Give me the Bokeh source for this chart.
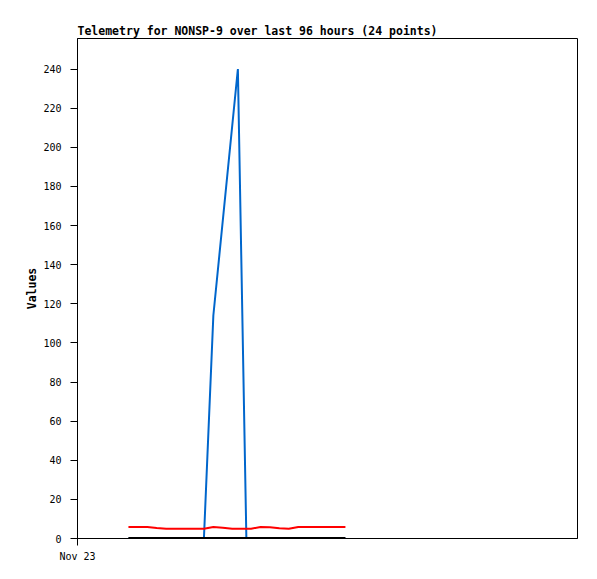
from bokeh.plotting import figure
from bokeh.models import Range1d, FixedTicker
from bokeh.embed import file_html
from bokeh.resources import INLINE

# hours since Nov 23 00:00
hours = [5.4 + i for i in range(24)]
red_vals = [5.9, 5.9, 5.9, 5.4, 5.0, 5.0, 5.0, 5.0, 5.0, 5.9, 5.5, 5.0,
            5.0, 5.0, 5.9, 5.8, 5.2, 5.0, 5.9, 5.9, 5.9, 5.9, 5.9, 5.9]
black_vals = [0.0] * 24
blue_hours = [5.4, 6.4, 7.4, 8.4, 9.4, 10.4, 11.4, 12.4, 13.4, 14.4, 17.0, 17.9,
              18.9, 19.9, 20.9, 21.9, 22.9, 23.9, 24.9, 25.9, 26.9, 27.9, 28.4]
blue_vals = [0, 0, 0, 0, 0, 0, 0, 0, 0, 114, 240, 0,
             0, 0, 0, 0, 0, 0, 0, 0, 0, 0, 0]
x_ticks = [0]
x_tick_labels = ["Nov 23"]
y_ticks = list(range(0, 241, 20))

MONO = "DejaVu Sans Mono"

p = figure(width=597, height=579, output_backend="svg", toolbar_location=None,
           x_range=Range1d(0, 53.0), y_range=Range1d(0, 255.6),
           min_border_left=77, min_border_right=20, min_border_top=38, min_border_bottom=41)

p.title.text = "Telemetry for NONSP-9 over last 96 hours (24 points)"
p.title.text_font = MONO
p.title.text_font_style = "bold"
p.title.text_font_size = "11.5px"
p.title.text_color = "black"
p.title.align = "left"
p.title.offset = 0
p.title.standoff = 2

p.grid.visible = False
p.outline_line_color = "black"
p.outline_line_alpha = 1.0
p.outline_line_width = 1

for ax in (p.xaxis[0], p.yaxis[0]):
    ax.major_tick_out = 7
    ax.major_tick_in = 0
    ax.minor_tick_out = 0
    ax.minor_tick_in = 0
    ax.axis_line_color = "black"
    ax.major_tick_line_color = "black"
    ax.major_label_text_font = MONO
    ax.major_label_text_font_size = "10px"
    ax.major_label_text_color = "black"

p.yaxis.ticker = FixedTicker(ticks=y_ticks)
p.yaxis.major_label_standoff = 9
p.yaxis.axis_label = "Values"
p.yaxis.axis_label_text_font = MONO
p.yaxis.axis_label_text_font_style = "bold"
p.yaxis.axis_label_text_font_size = "11.5px"
p.yaxis.axis_label_text_color = "black"
p.yaxis.axis_label_standoff = 1

p.xaxis.ticker = FixedTicker(ticks=x_ticks)
p.xaxis.major_label_overrides = {t: l for t, l in zip(x_ticks, x_tick_labels)}
p.xaxis.major_label_standoff = 5

p.line(blue_hours, blue_vals, line_color="#0066cc", line_width=2)
p.line(hours, red_vals, line_color="#ff0000", line_width=2)
p.line(hours, black_vals, line_color="black", line_width=3)

open("out.html", "w").write(file_html(p, INLINE))
